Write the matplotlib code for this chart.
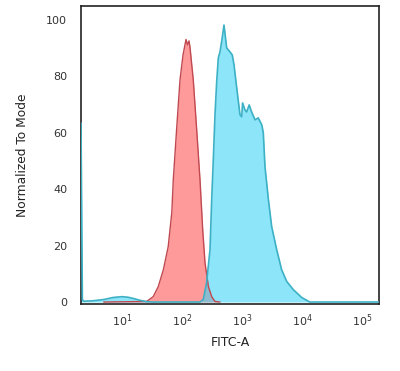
import numpy as np
import matplotlib
matplotlib.use("Agg")
import matplotlib.pyplot as plt

# blue histogram (stained sample), x as log10(FITC-A), y as % of mode
blue_logx = [0.30, 0.317, 0.34, 0.36, 0.5, 0.7, 0.85, 1.0, 1.1, 1.2, 1.3, 1.42, 1.5,
             2.0, 2.3, 2.355, 2.41, 2.467, 2.495, 2.525, 2.55, 2.578, 2.605, 2.633,
             2.66, 2.70, 2.745, 2.80, 2.838, 2.867, 2.90, 2.94, 2.967, 2.995, 3.01,
             3.05, 3.078, 3.12, 3.16, 3.217, 3.27, 3.33, 3.355, 3.383, 3.44, 3.495,
             3.578, 3.66, 3.745, 3.855, 3.995, 4.13, 4.6, 5.3]
blue_y = [63.5, 63.5, 0.9, 0.3, 0.4, 0.9, 1.6, 1.9, 1.7, 1.2, 0.6, 0.1, 0.0,
          0.0, 0.0, 0.9, 6.9, 18.6, 36.3, 52.2, 66.4, 78.1, 86.5, 88.7,
          92.2, 98.2, 90.1, 88.7, 87.6, 84.1, 78.1, 71.0, 66.4, 65.7, 70.6,
          68.1, 67.4, 69.9, 67.4, 64.6, 65.3, 62.8, 60.0, 48.0, 36.3, 26.7,
          18.6, 11.5, 7.3, 4.4, 1.6, 0.0, 0.0, 0.0]

# red histogram (isotype control)
red_logx = [0.7, 1.41, 1.52, 1.605, 1.69, 1.77, 1.83, 1.855, 1.91, 1.967, 2.017,
            2.067, 2.092, 2.117, 2.133, 2.188, 2.245, 2.30, 2.345, 2.383, 2.44,
            2.495, 2.55, 2.63]
red_y = [0.0, 0.2, 1.9, 5.5, 11.5, 19.6, 31.7, 43.4, 61.1, 78.8, 87.6,
         93.1, 91.2, 92.6, 90.4, 78.8, 61.1, 43.4, 25.7, 14.0, 5.5,
         1.9, 0.2, 0.0]

bx = 10 ** np.array(blue_logx)
rx = 10 ** np.array(red_logx)

fig = plt.figure(figsize=(4.0, 3.71), dpi=100)
ax = fig.add_axes([0.2025, 0.1806, 0.745, 0.8032])

ax.fill_between(rx, red_y, color="#ff9a9a", lw=0, zorder=1)
ax.plot(rx, red_y, color="#c04850", lw=1.0, zorder=3)
ax.fill_between(bx, blue_y, color="#40d4f4", alpha=0.6, lw=0, zorder=2)
ax.plot(bx, blue_y, color="#3cb0c4", lw=1.2, zorder=4)

ax.set_xscale("log")
ax.set_xlim(10 ** 0.317, 10 ** 5.283)
ax.set_ylim(-0.7, 104.96)
ax.set_xticks([1e1, 1e2, 1e3, 1e4, 1e5])
ax.minorticks_off()
ax.set_yticks([0, 20, 40, 60, 80, 100])
ax.tick_params(axis="both", length=0, labelsize=8, colors="#333333")
ax.tick_params(axis="y", pad=10)
ax.tick_params(axis="x", pad=6)

for s in ax.spines.values():
    s.set_color("#222222")
    s.set_linewidth(1.2)

ax.set_xlabel("FITC-A", fontsize=9, color="#222222", labelpad=5)
ax.set_ylabel("Normalized To Mode", fontsize=8.8, color="#222222", labelpad=12)

fig.savefig("out.png", dpi=100)
